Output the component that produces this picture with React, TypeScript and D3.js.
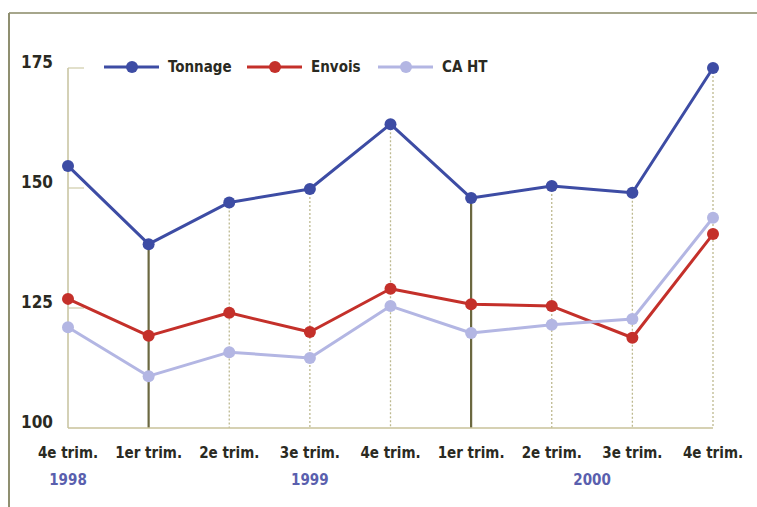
import React from "react";
import * as d3 from "d3";

const quarters = [
  "4e trim.", "1er trim.", "2e trim.", "3e trim.", "4e trim.",
  "1er trim.", "2e trim.", "3e trim.", "4e trim.",
];
const yearLabels = [
  { label: "1998", at: 0 },
  { label: "1999", at: 3 },
  { label: "2000", at: 6.5 },
];
const yearStarts = [1, 5];
const yTicks = [100, 125, 150, 175];

const tonnage = [154.6, 138.3, 147, 149.8, 163.3, 147.9, 150.4, 149, 175];
const envois = [126.9, 119.2, 124, 120, 129, 125.8, 125.4, 118.8, 140.4];
const caHT = [121, 110.8, 115.8, 114.6, 125.4, 119.8, 121.5, 122.7, 143.8];

const series = [
  { name: "Tonnage", values: tonnage, color: "#3d4ca4", legendX: 104 },
  { name: "Envois", values: envois, color: "#c4302a", legendX: 247 },
  { name: "CA HT", values: caHT, color: "#b3b6e3", legendX: 378 },
];

const W = 757;
const H = 507;
const FONT = "'Liberation Sans Narrow', 'DejaVu Sans Condensed', 'Arial Narrow', sans-serif";

export default function App() {
  const idx = quarters.map((_, i) => i);
  const x = d3.scaleLinear().domain([0, quarters.length - 1]).range([68, 713]);
  const y = d3.scaleLinear().domain([100, 175]).range([428, 68]);
  const line = d3
    .line<number>()
    .x((_, i) => x(i))
    .y((v) => y(v));

  return (
    <svg
      width={W}
      height={H}
      style={{ position: "absolute", left: 0, top: 0, background: "#fff" }}
      fontFamily={FONT}
    >
      {/* outer frame */}
      <line x1={9} x2={W} y1={13} y2={13} stroke="#a6a68c" strokeWidth={2} />
      <line x1={9} x2={9} y1={13} y2={H} stroke="#8f8f70" strokeWidth={2} />

      {/* drop lines from the top series down to the baseline */}
      {idx.map((i) => {
        const strong = yearStarts.includes(i);
        const axis = i === 0;
        const top = axis ? y(175) : y(tonnage[i]);
        return (
          <line
            key={"g" + i}
            x1={x(i)}
            x2={x(i)}
            y1={top}
            y2={y(100)}
            stroke={strong ? "#6b6840" : "#bdb98f"}
            strokeWidth={strong ? 2.2 : 1.3}
            strokeDasharray={strong || axis ? undefined : "2 2"}
          />
        );
      })}
      {/* baseline */}
      <line x1={x(0)} x2={x(quarters.length - 1)} y1={y(100)} y2={y(100)} stroke="#c9c29a" strokeWidth={1.5} />
      {/* y tick stubs */}
      {yTicks.filter((t) => t > 100).map((t) => (
        <line key={"s" + t} x1={x(0)} x2={x(0) + 16} y1={y(t)} y2={y(t)} stroke="#cfcca8" strokeWidth={1.2} />
      ))}

      {/* y labels */}
      {yTicks.map((t) => (
        <text
          key={"y" + t}
          x={53}
          y={y(t) - 5}
          textAnchor="end"
          dominantBaseline="middle"
          fontSize={17}
          fontWeight="bold"
          fill="#2a2a22"
        >
          {t}
        </text>
      ))}

      {/* x labels */}
      {quarters.map((q, i) => (
        <text
          key={"x" + i}
          x={x(i)}
          y={453}
          textAnchor="middle"
          dominantBaseline="middle"
          fontSize={15}
          fontWeight="bold"
          fill="#2a2a22"
        >
          {q}
        </text>
      ))}
      {yearLabels.map((yl) => (
        <text
          key={yl.label}
          x={x(yl.at)}
          y={480}
          textAnchor="middle"
          dominantBaseline="middle"
          fontSize={15}
          fontWeight="bold"
          fill="#5a5fae"
        >
          {yl.label}
        </text>
      ))}

      {/* series */}
      {series.map((s) => (
        <g key={s.name}>
          <path d={line(s.values) ?? ""} fill="none" stroke={s.color} strokeWidth={3} strokeLinejoin="round" />
          {s.values.map((v, i) => (
            <circle key={i} cx={x(i)} cy={y(v)} r={6} fill={s.color} />
          ))}
        </g>
      ))}

      {/* legend */}
      {series.map((s) => (
        <g key={"l" + s.name}>
          <line x1={s.legendX} x2={s.legendX + 55} y1={67} y2={67} stroke={s.color} strokeWidth={3} />
          <circle cx={s.legendX + 28} cy={67} r={6} fill={s.color} />
          <text
            x={s.legendX + 64}
            y={67}
            dominantBaseline="middle"
            fontSize={15}
            fontWeight="bold"
            fill="#2a2a22"
          >
            {s.name}
          </text>
        </g>
      ))}
    </svg>
  );
}
